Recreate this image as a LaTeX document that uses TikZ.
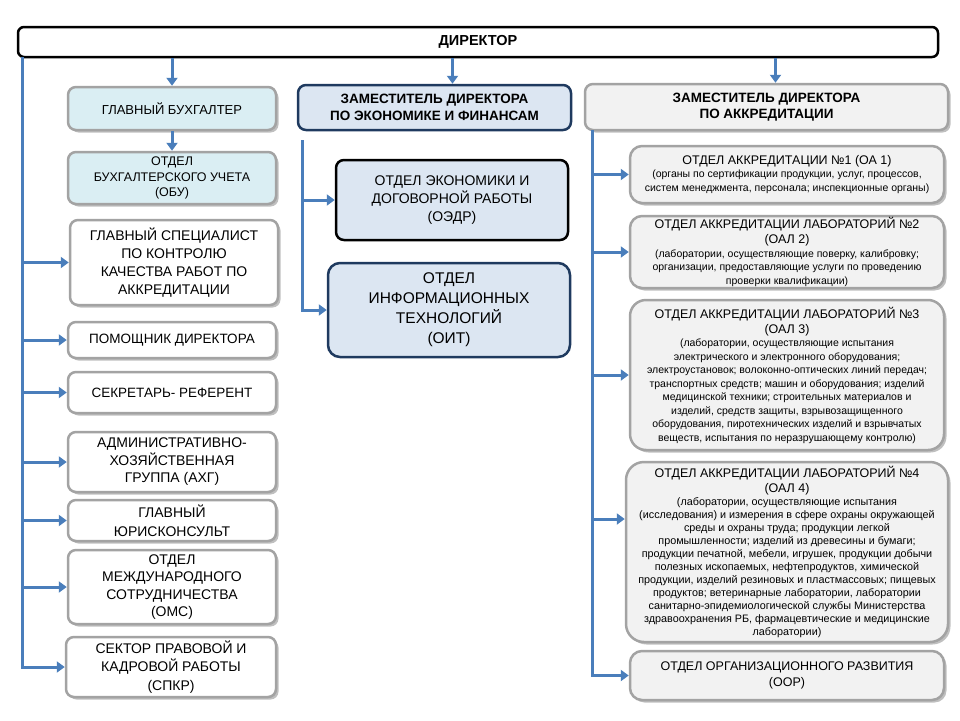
\documentclass[tikz,border=0pt]{standalone}
\usepackage{fontspec}
\setmainfont{Liberation Sans}
\usetikzlibrary{arrows.meta,shadows,calc}
\definecolor{linkblue}{HTML}{4A7EBB}
\definecolor{boxgray}{HTML}{A3A3A3}
\definecolor{navy}{HTML}{1F3A5F}
\definecolor{cyanfill}{HTML}{DAEEF3}
\definecolor{bluefill}{HTML}{DCE6F2}
\definecolor{grayfill}{HTML}{F2F2F2}
\newcommand{\ttl}{\fontsize{12.5}{15}\selectfont}
\newcommand{\sub}{\fontsize{10.5}{13.5}\selectfont}

\tikzset{
  unit/.style={draw=boxgray, line width=2.5pt, rounded corners=8pt, fill=white,
    align=center, inner sep=1pt, font=\fontsize{14}{18}\selectfont,
    drop shadow={shadow xshift=2.5pt, shadow yshift=-2.5pt, fill=black!50, opacity=0.5}},
  acc/.style={unit, fill=grayfill, rounded corners=12pt, align=flush center},
  econ/.style={draw=navy, line width=2.5pt, rounded corners=8pt, fill=bluefill,
    align=center, inner sep=1pt, font=\fontsize{14}{18}\selectfont},
  bus/.style={draw=linkblue, line width=3pt},
  link/.style={bus, -{Triangle[length=8pt,width=11pt]}}
}

\begin{document}
\begin{tikzpicture}[x=1pt,y=-1pt]
\useasboundingbox (0,0) rectangle (960,720);

% director
\node[draw=black, line width=2.5pt, rounded corners=6pt, fill=white,
  minimum width=920pt, minimum height=30pt, font=\bfseries\fontsize{14.5}{16}\selectfont]
  (dir) at (478,42) {ДИРЕКТОР};

% left column
\node[unit, fill=cyanfill, minimum width=208pt, minimum height=43pt, font=\fontsize{13}{15}\selectfont]
  (gb) at (172,108.5) {ГЛАВНЫЙ БУХГАЛТЕР};
\node[unit, fill=cyanfill, minimum width=208pt, minimum height=52pt, font=\fontsize{12.5}{15.5}\selectfont]
  (obu) at (172,178) {ОТДЕЛ\\БУХГАЛТЕРСКОГО УЧЕТА\\(ОБУ)};
\node[unit, minimum width=208pt, minimum height=85pt] (gs) at (174,262.5)
  {ГЛАВНЫЙ СПЕЦИАЛИСТ\\ПО КОНТРОЛЮ\\КАЧЕСТВА РАБОТ ПО\\АККРЕДИТАЦИИ};
\node[unit, minimum width=208pt, minimum height=36pt, font=\fontsize{13.5}{17}\selectfont]
  (pd) at (172,340) {ПОМОЩНИК ДИРЕКТОРА};
\node[unit, minimum width=208pt, minimum height=41pt, font=\fontsize{13.5}{17}\selectfont]
  (sr) at (172,392.5) {СЕКРЕТАРЬ- РЕФЕРЕНТ};
\node[unit, minimum width=208pt, minimum height=60pt, font=\fontsize{14}{17.5}\selectfont]
  (ahg) at (172,462) {АДМИНИСТРАТИВНО-\\ХОЗЯЙСТВЕННАЯ\\ГРУППА (АХГ)};
\node[unit, minimum width=208pt, minimum height=41pt, font=\fontsize{14}{19}\selectfont]
  (ur) at (172,520.5) {ГЛАВНЫЙ\\ЮРИСКОНСУЛЬТ};
\node[unit, minimum width=208pt, minimum height=74pt, font=\fontsize{14}{17.5}\selectfont]
  (oms) at (172,587) {ОТДЕЛ\\МЕЖДУНАРОДНОГО\\СОТРУДНИЧЕСТВА\\(ОМС)};
\node[unit, minimum width=210pt, minimum height=60pt, font=\fontsize{14}{18.5}\selectfont]
  (spkr) at (171,667) {СЕКТОР ПРАВОВОЙ И\\КАДРОВОЙ РАБОТЫ\\(СПКР)};

% middle column
\node[econ, minimum width=273pt, minimum height=45pt, font=\bfseries\fontsize{13.5}{17}\selectfont]
  (zdef) at (434.5,107.5) {ЗАМЕСТИТЕЛЬ ДИРЕКТОРА\\ПО ЭКОНОМИКЕ И ФИНАНСАМ};
\node[econ, draw=black, minimum width=232pt, minimum height=80pt]
  (oedr) at (452,200) {ОТДЕЛ ЭКОНОМИКИ И\\ДОГОВОРНОЙ РАБОТЫ\\(ОЭДР)};
\node[econ, minimum width=242pt, minimum height=94pt, rounded corners=12pt, font=\fontsize{15.5}{20}\selectfont]
  (oit) at (449,310) {ОТДЕЛ\\ИНФОРМАЦИОННЫХ\\ТЕХНОЛОГИЙ\\(ОИТ)};

% right column
\node[acc, rounded corners=8pt, minimum width=363pt, minimum height=46pt, font=\bfseries\fontsize{13.5}{16}\selectfont]
  (zda) at (766.5,107) {ЗАМЕСТИТЕЛЬ ДИРЕКТОРА\\ПО АККРЕДИТАЦИИ};
\node[acc, minimum width=314pt, minimum height=57pt, text width=308pt] (oa1) at (787,174.5)
  {{\ttl ОТДЕЛ АККРЕДИТАЦИИ №1 (ОА 1)\par}
   {\sub (органы по сертификации продукции, услуг, процессов,\\
   систем менеджмента, персонала; инспекционные органы)\par}};
\node[acc, minimum width=314pt, minimum height=72pt, text width=308pt] (oal2) at (787,252)
  {{\ttl ОТДЕЛ АККРЕДИТАЦИИ ЛАБОРАТОРИЙ №2\\(ОАЛ 2)\par}
   {\sub (лаборатории, осуществляющие поверку, калибровку;\\
   организации, предоставляющие услуги по проведению\\
   проверки квалификации)\par}};
\node[acc, minimum width=314pt, minimum height=150pt, rounded corners=16pt, text width=308pt] (oal3) at (787,375)
  {{\ttl ОТДЕЛ АККРЕДИТАЦИИ ЛАБОРАТОРИЙ №3\\(ОАЛ 3)\par}
   {\sub (лаборатории, осуществляющие испытания\\
   электрического и электронного оборудования;\\
   электроустановок; волоконно-оптических линий передач;\\
   транспортных средств; машин и оборудования; изделий\\
   медицинской техники; строительных материалов и\\
   изделий, средств защиты, взрывозащищенного\\
   оборудования, пиротехнических изделий и взрывчатых\\
   веществ, испытания по неразрушающему контролю)\par}};
\node[acc, minimum width=322pt, minimum height=180pt, rounded corners=18pt, text width=316pt] (oal4) at (787,552)
  {{\ttl ОТДЕЛ АККРЕДИТАЦИИ ЛАБОРАТОРИЙ №4\\(ОАЛ 4)\par}
   {\fontsize{10.8}{13}\selectfont (лаборатории, осуществляющие испытания\\
   (исследования) и измерения в сфере охраны окружающей\\
   среды и охраны труда; продукции легкой\\
   промышленности; изделий из древесины и бумаги;\\
   продукции печатной, мебели, игрушек, продукции добычи\\
   полезных ископаемых, нефтепродуктов, химической\\
   продукции, изделий резиновых и пластмассовых; пищевых\\
   продуктов; ветеринарные лаборатории, лаборатории\\
   санитарно-эпидемиологической службы Министерства\\
   здравоохранения РБ, фармацевтические и медицинские\\
   лаборатории)\par}};
\node[acc, minimum width=314pt, minimum height=49pt, font=\fontsize{12.5}{16}\selectfont]
  (oor) at (787,675.5) {ОТДЕЛ ОРГАНИЗАЦИОННОГО РАЗВИТИЯ\\(ООР)};

% connectors
\coordinate (lbus) at (22,57);
\coordinate (mbus) at (302,140);
\coordinate (rbus) at (592,130);
\coordinate (zdefin) at ($(zdef.north)+(18,0)$);
\coordinate (zdain) at ($(zda.north)+(9,0)$);
\coordinate (oal4in) at ($(oal4.west)+(0,-33)$);

\draw[link] (dir.south -| gb.north) -- (gb.north);
\draw[link] (dir.south -| zdefin) -- (zdefin);
\draw[link] (dir.south -| zdain) -- (zdain);
\draw[link] (gb.south) -- (obu.north);

\draw[link] (lbus) |- (spkr.west);
\foreach \n in {gs,pd,sr,ahg,ur,oms}
  \draw[link] (lbus |- \n.west) -- (\n.west);

\draw[link] (mbus) |- (oit.west);
\draw[link] (mbus |- oedr.west) -- (oedr.west);

\draw[link] (rbus) |- (oor.west);
\foreach \n in {oa1,oal2,oal3}
  \draw[link] (rbus |- \n.west) -- (\n.west);
\draw[link] (rbus |- oal4in) -- (oal4in);
\end{tikzpicture}
\end{document}
